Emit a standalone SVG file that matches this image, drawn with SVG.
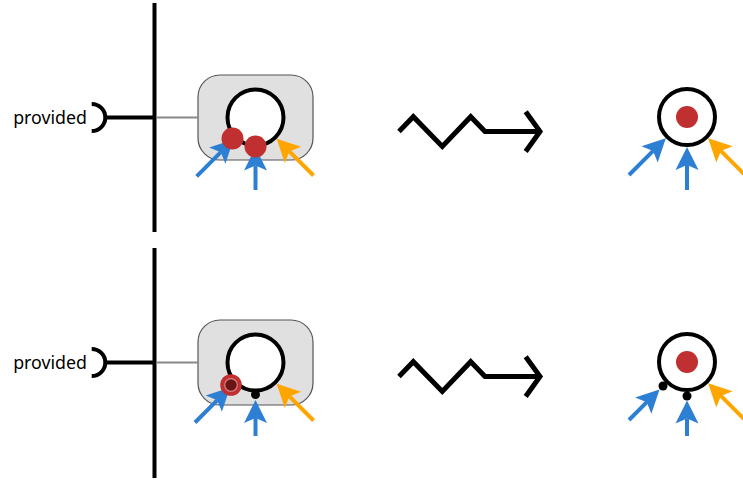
<svg xmlns="http://www.w3.org/2000/svg" width="743" height="481" viewBox="0 0 743 481">
<style>
.bar{stroke:#000;stroke-width:4;fill:none}
.sock{stroke:#000;stroke-width:4;fill:none}
.link{stroke:#888;stroke-width:2;fill:none}
.box{fill:#e0e0e0;stroke:#555;stroke-width:1.2}
.ring{fill:#fff;stroke:#000;stroke-width:4}
.red{fill:#c03030}
.blk{fill:#000}
.ab{stroke:#2d7fd3;stroke-width:4;fill:none;marker-end:url(#hb)}
.ao{stroke:#ffa500;stroke-width:4;fill:none;marker-end:url(#ho)}
.wave{stroke:#000;stroke-width:5;fill:none;stroke-linejoin:miter}
.lbl{font-family:"Noto Sans","Open Sans",sans-serif;font-size:17.8px;fill:#000}
</style>
<defs>
<marker id="hb" markerUnits="userSpaceOnUse" orient="auto" refX="5" refY="11.5" markerWidth="24" markerHeight="24" overflow="visible">
<path d="M0,0 L23,11.5 L0,23 L5,11.5 Z" fill="#2d7fd3"/>
</marker>
<marker id="ho" markerUnits="userSpaceOnUse" orient="auto" refX="5" refY="11.5" markerWidth="24" markerHeight="24" overflow="visible">
<path d="M0,0 L23,11.5 L0,23 L5,11.5 Z" fill="#ffa500"/>
</marker>
</defs>

<g id="boundary-top"><path class="bar" d="M154.5,3 V232"/></g>
<g id="boundary-bottom"><path class="bar" d="M154.5,248 V478"/></g>

<g id="interface-top">
<text class="lbl" x="87" y="123.5" text-anchor="end">provided</text>
<path class="sock" d="M91.7,103.9 A13.6,13.6 0 0 1 91.7,131.1"/>
</g>
<g id="interface-bottom">
<text class="lbl" x="87" y="368.5" text-anchor="end">provided</text>
<path class="sock" d="M91.7,348.9 A13.6,13.6 0 0 1 91.7,376.1"/>
</g>

<g id="component-top">
<rect class="box" x="198" y="75" width="115" height="85" rx="22"/>
<circle class="ring" cx="255.5" cy="117.5" r="28"/>
</g>

<g id="component-bottom">
<rect class="box" x="198" y="320" width="115" height="85" rx="22"/>
<circle class="ring" cx="255.5" cy="362.5" r="28"/>
</g>

<g id="result-top">
<circle class="ring" cx="687" cy="117" r="28"/>
<circle class="red" cx="687" cy="117" r="11"/>
</g>

<g id="result-bottom">
<circle class="ring" cx="687" cy="362" r="28"/>
<circle class="red" cx="687" cy="362" r="11"/>
</g>

<g id="connectors">
<path class="bar" d="M105.3,117.5 H154.5"/>
<path class="link" d="M156.5,117.5 H198"/>
<path class="bar" d="M105.3,362.5 H154.5"/>
<path class="link" d="M156.5,362.5 H198"/>
<path class="ab" d="M196.7,176.3 L220.8,152.2"/>
<path class="ab" d="M255.5,190 V165.5"/>
<path class="ao" d="M313.5,175.5 L289.4,151.4"/>
<path class="ab" d="M629,175 L653.1,150.9"/>
<path class="ab" d="M687,190 V165"/>
<path class="ao" d="M745,175 L720.9,150.9"/>
<path class="ab" d="M195,422.5 L217.3,400.2"/>
<path class="ab" d="M255.5,436 V418"/>
<path class="ao" d="M313.5,420.5 L289.4,396.4"/>
<path class="ab" d="M629,420 L646.8,402.2"/>
<path class="ab" d="M687,436 V418.5"/>
<path class="ao" d="M745,420 L720.9,395.9"/>
<polyline class="wave" points="399,131.5 413.3,116.7 442.3,146.5 470.7,116.7 485,131.5 539,131.5"/>
<polyline class="wave" points="525.7,111.7 540,131.5 525.7,151.5"/>
<polyline class="wave" points="399,376.5 413.3,361.7 442.3,391.5 470.7,361.7 485,376.5 539,376.5"/>
<polyline class="wave" points="525.7,356.7 540,376.5 525.7,396.5"/>
</g>

<g id="tokens-top">
<circle class="red" cx="232.5" cy="138.5" r="11"/>
<circle class="red" cx="255.5" cy="146.5" r="11"/>
</g>

<g id="tokens-bottom">
<circle class="red" cx="231" cy="385" r="10.8"/>
<circle cx="231" cy="385" r="6.3" fill="#6a1515" stroke="#d98080" stroke-width="1.2"/>
<circle class="blk" cx="255.5" cy="394.5" r="4.5"/>
<circle class="blk" cx="663" cy="386" r="4.5"/>
<circle class="blk" cx="687" cy="396" r="4.5"/>
</g>
</svg>
